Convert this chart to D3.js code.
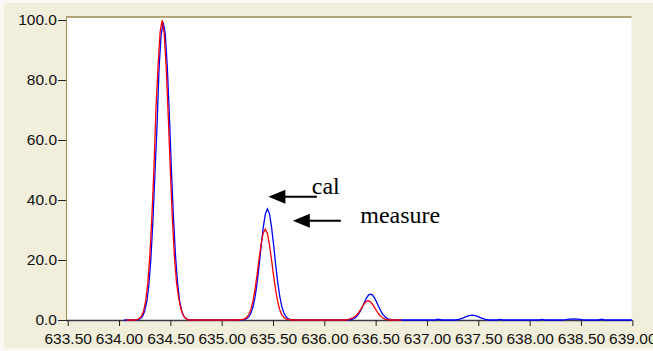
<!DOCTYPE html>
<html>
<head>
<meta charset="utf-8">
<script src="https://cdn.jsdelivr.net/npm/d3@7"></script>
<style>
  html, body { margin: 0; padding: 0; background: #faf9f1; }
  svg { display: block; }
  .tick-label { font-family: "Liberation Sans", Arial, sans-serif; font-size: 15.5px; fill: #111; }
  .note { font-family: "Liberation Serif", "Times New Roman", serif; font-size: 24px; fill: #000; }
</style>
</head>
<body>
<div id="chart"></div>
<script>
// axis ticks
const xTicks = [633.5, 634.0, 634.5, 635.0, 635.5, 636.0, 636.5, 637.0, 637.5, 638.0, 638.5, 639.0];
const yTicks = [0, 20, 40, 60, 80, 100];

// "cal" trace (blue)
const calX = [634.05,
  634.17, 634.19, 634.21, 634.23, 634.25, 634.27, 634.29, 634.31, 634.33, 634.35, 634.37, 634.39, 634.41,
  634.43, 634.45, 634.47, 634.49, 634.51, 634.53, 634.55, 634.57, 634.59, 634.61, 634.63, 634.65, 634.67, 634.69,
  635.185, 635.205, 635.225, 635.245, 635.265, 635.285, 635.305, 635.325, 635.345, 635.365, 635.385, 635.405, 635.425,
  635.445, 635.465, 635.485, 635.505, 635.525, 635.545, 635.565, 635.585, 635.605, 635.625, 635.645, 635.665, 635.685, 635.705,
  636.23, 636.25, 636.27, 636.29, 636.31, 636.33, 636.35, 636.37, 636.39, 636.41, 636.43,
  636.45, 636.47, 636.49, 636.51, 636.53, 636.55, 636.57, 636.59, 636.61, 636.63, 636.65, 636.67,
  637.08, 637.11, 637.14,
  637.28, 637.32, 637.36, 637.40, 637.44, 637.48, 637.52, 637.56, 637.60,
  637.68, 637.71, 637.74, 638.09, 638.12, 638.15,
  638.31, 638.35, 638.39, 638.43, 638.47, 638.51, 638.55,
  638.67, 638.70, 638.73, 639.00];
const calY = [0,
  0, 0.2, 0.5, 1.3, 3.0, 6.0, 11.5, 20.2, 33.0, 48.8, 64.5, 84.0, 95.0,
  99.2, 95.5, 84.5, 68.5, 50.5, 34.2, 21.5, 12.4, 6.4, 3.1, 1.3, 0.5, 0.2, 0,
  0, 0.1, 0.2, 0.5, 1.1, 2.3, 4.4, 7.6, 12.3, 18.2, 24.8, 30.9, 35.3,
  37.0, 35.5, 31.2, 25.3, 18.8, 12.8, 8.0, 4.6, 2.4, 1.2, 0.5, 0.2, 0.1, 0,
  0, 0.1, 0.25, 0.5, 1.0, 1.8, 2.9, 4.3, 5.8, 7.3, 8.3,
  8.6, 8.3, 7.3, 5.9, 4.4, 3.0, 1.9, 1.1, 0.55, 0.25, 0.1, 0,
  0, 0.25, 0,
  0, 0.3, 0.8, 1.35, 1.6, 1.35, 0.8, 0.3, 0,
  0, 0.2, 0, 0, 0.2, 0,
  0, 0.12, 0.3, 0.4, 0.3, 0.12, 0,
  0, 0.25, 0, 0];

// "measure" trace (red)
const measX = [634.07,
  634.16, 634.18, 634.20, 634.22, 634.24, 634.26, 634.28, 634.30, 634.32, 634.34, 634.36, 634.38, 634.40,
  634.42, 634.44, 634.46, 634.48, 634.50, 634.52, 634.54, 634.56, 634.58, 634.60, 634.62, 634.64, 634.66, 634.68,
  635.165, 635.185, 635.205, 635.225, 635.245, 635.265, 635.285, 635.305, 635.325, 635.345, 635.365, 635.385, 635.405,
  635.425, 635.445, 635.465, 635.485, 635.505, 635.525, 635.545, 635.565, 635.585, 635.605, 635.625, 635.645, 635.665, 635.685,
  636.21, 636.23, 636.25, 636.27, 636.29, 636.31, 636.33, 636.35, 636.37, 636.39, 636.41,
  636.43, 636.45, 636.47, 636.49, 636.51, 636.53, 636.55, 636.57, 636.59, 636.61, 636.63, 636.65,
  636.75];
const measY = [0,
  0, 0.2, 0.6, 1.4, 3.1, 6.4, 12.2, 21.3, 34.2, 50.5, 70.5, 84.5, 96.0,
  100, 95.5, 83.8, 67.5, 49.8, 33.5, 21.0, 12.5, 7.5, 4.0, 2.0, 0.8, 0.3, 0,
  0, 0.1, 0.2, 0.4, 0.9, 1.9, 3.7, 6.4, 10.3, 15.2, 20.6, 25.5, 29.0,
  30.3, 28.9, 25.2, 20.2, 14.9, 10.1, 6.2, 3.5, 1.8, 0.9, 0.4, 0.2, 0.1, 0,
  0, 0.15, 0.35, 0.6, 1.0, 1.5, 2.3, 3.3, 4.4, 5.5, 6.2,
  6.4, 6.0, 5.2, 4.1, 3.0, 2.0, 1.2, 0.65, 0.3, 0.1, 0.05, 0,
  0];

// annotation anchors in data units: arrow tip, arrow tail, text position
const notes = [
  { text: "cal", tip: [635.455, 41.1], tail: [635.927, 41.1], at: [635.878, 42.0] },
  { text: "measure", tip: [635.693, 33.1], tail: [636.161, 33.1], at: [636.35, 32.3] }
];

const width = 653, height = 351;

const svg = d3.select('#chart').append('svg')
  .attr('width', width)
  .attr('height', height);

// beige panel
svg.append('rect')
  .attr('x', 4).attr('y', 3)
  .attr('width', width - 4).attr('height', 345)
  .attr('fill', '#f1eedc');

const xScale = d3.scaleLinear().domain([633.5, 639.0]).range([67.7, 632.3]);
const yScale = d3.scaleLinear().domain([0, 100]).range([320, 20]);

const plotLeft = 66, plotRight = 631.5, plotTop = 17, plotBottom = 320;

// white plot area
svg.append('rect')
  .attr('x', plotLeft).attr('y', plotTop)
  .attr('width', plotRight - plotLeft).attr('height', plotBottom - plotTop)
  .attr('fill', '#ffffff');

svg.append('clipPath').attr('id', 'plot-clip')
  .append('rect')
  .attr('x', plotLeft).attr('y', plotTop - 1)
  .attr('width', plotRight - plotLeft + 1).attr('height', plotBottom - plotTop + 2);

// frame: olive top and left edges
svg.append('line')
  .attr('x1', plotLeft).attr('x2', plotRight)
  .attr('y1', plotTop).attr('y2', plotTop)
  .attr('stroke', '#9c8a4c').attr('stroke-width', 1.5);
svg.append('line')
  .attr('x1', plotLeft + 0.5).attr('x2', plotLeft + 0.5)
  .attr('y1', plotTop).attr('y2', plotBottom)
  .attr('stroke', '#9c8a4c').attr('stroke-width', 1);

// x axis
const xAxis = d3.axisBottom(xScale)
  .tickValues(xTicks)
  .tickSize(6)
  .tickSizeOuter(0)
  .tickFormat(d => d.toFixed(2));

const gx = svg.append('g')
  .attr('transform', 'translate(0,' + plotBottom + ')')
  .call(xAxis);
gx.select('.domain')
  .attr('d', 'M' + plotLeft + ',0.5H' + plotRight)
  .attr('stroke', '#3a3a48').attr('stroke-width', 1.6);
gx.selectAll('.tick line').attr('stroke', '#222');
gx.selectAll('.tick text')
  .attr('class', 'tick-label')
  .attr('y', 13)
  .attr('dy', '0.71em')
  .style('font-size', null).style('font-family', null);
gx.attr('font-size', null).attr('font-family', null);

// y axis
const yAxis = d3.axisLeft(yScale)
  .tickValues(yTicks)
  .tickSize(8)
  .tickSizeOuter(0)
  .tickFormat(d => d.toFixed(1));

const gy = svg.append('g')
  .attr('transform', 'translate(' + plotLeft + ',0)')
  .call(yAxis);
gy.select('.domain').remove();
gy.selectAll('.tick line').attr('stroke', '#222');
gy.selectAll('.tick text')
  .attr('class', 'tick-label')
  .attr('x', -9);
gy.attr('font-size', null).attr('font-family', null);

// traces
const line = d3.line()
  .x(d => xScale(d[0]))
  .y(d => yScale(d[1]));

const traces = svg.append('g').attr('clip-path', 'url(#plot-clip)');

traces.append('path')
  .datum(calX.map((x, i) => [x, calY[i]]))
  .attr('d', line)
  .attr('fill', 'none')
  .attr('stroke', '#0000ff')
  .attr('stroke-width', 1.3);

traces.append('path')
  .datum(measX.map((x, i) => [x, measY[i]]))
  .attr('d', line)
  .attr('fill', 'none')
  .attr('stroke', '#ff0000')
  .attr('stroke-width', 1.3);

// annotations with arrows
const noteG = svg.append('g');
notes.forEach(n => {
  const tx = xScale(n.tip[0]), ty = yScale(n.tip[1]);
  const ex = xScale(n.tail[0]);
  noteG.append('line')
    .attr('x1', tx + 14).attr('x2', ex)
    .attr('y1', ty).attr('y2', ty)
    .attr('stroke', '#000').attr('stroke-width', 2);
  noteG.append('path')
    .attr('d', 'M' + tx + ',' + ty + 'L' + (tx + 17) + ',' + (ty - 7) + 'L' + (tx + 17) + ',' + (ty + 7) + 'Z')
    .attr('fill', '#000');
  noteG.append('text')
    .attr('class', 'note')
    .attr('x', xScale(n.at[0]))
    .attr('y', yScale(n.at[1]))
    .text(n.text);
});
</script>
</body>
</html>
